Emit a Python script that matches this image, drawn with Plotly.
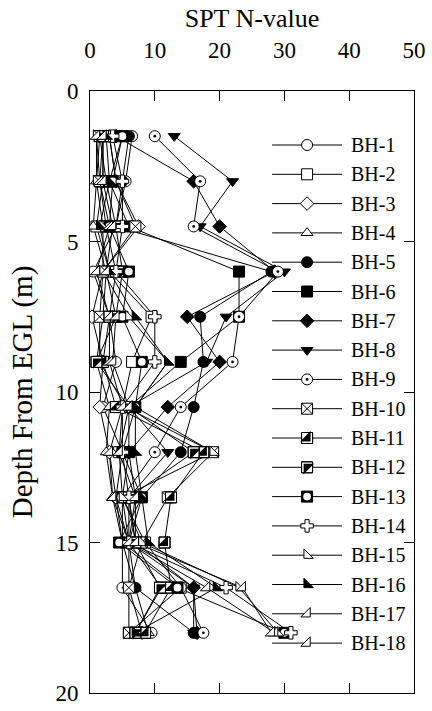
import plotly.graph_objects as go

# ---------------- data ----------------
depths = [1.5, 3.0, 4.5, 6.0, 7.5, 9.0, 10.5, 12.0, 13.5, 15.0, 16.5, 18.0]
names = [f"BH-{i}" for i in range(1, 19)]

bh1 = [6.5, 5.5, 4.0, 0.5, 3.0, 4.0, 2.0, 5.0, 4.0, 5.0, 5.0, 9.5]
bh2 = [2.0, 2.0, 1.0, 3.0, 9.5, 6.5, 5.0, 4.5, 5.0, 8.5, 14.0, 6.0]
bh3 = [3.0, 4.0, 7.5, 2.0, 0.3, 2.0, 1.5, 3.0, 4.0, 6.0, 6.0, 8.0]
bh4 = [1.5, 1.0, 0.5, 2.5, 2.0, 1.0, 3.0, 2.5, 3.5, 5.0, 7.0, 9.0]
bh5 = [6.0, 5.0, 4.0, 28.0, 17.0, 17.5, 16.0, 14.0, 8.0, 6.0, 7.0, 16.0]
bh6 = [5.0, 3.0, 6.0, 23.0, 23.0, 14.0, 6.0, 6.0, 5.0, 6.0, 11.0, 7.0]
bh7 = [4.0, 16.0, 20.0, 28.5, 15.0, 20.0, 12.0, 6.0, 7.0, 6.0, 16.0, 16.5]
bh8 = [13.0, 22.0, 17.0, 30.0, 21.0, 18.0, 6.0, 12.0, 6.0, 7.0, 16.0, 16.0]
bh9 = [10.0, 17.0, 16.0, 29.0, 23.0, 22.0, 14.0, 10.0, 5.0, 5.0, 14.0, 17.5]
bh10 = [3.0, 4.0, 7.0, 2.0, 1.5, 1.5, 5.5, 19.0, 12.0, 8.0, 6.0, 6.0]
bh11 = [2.0, 1.5, 2.5, 4.0, 3.0, 2.0, 4.0, 17.5, 12.5, 11.5, 12.5, 8.5]
bh12 = [1.5, 2.5, 4.0, 5.0, 4.0, 1.0, 6.0, 16.0, 6.0, 7.0, 10.8, 7.0]
bh13 = [5.0, 3.5, 3.0, 6.0, 5.0, 8.0, 7.0, 5.0, 8.0, 4.5, 13.5, 30.0]
bh14 = [3.5, 5.0, 5.0, 4.0, 10.0, 10.0, 5.0, 5.0, 6.0, 6.0, 21.0, 31.0]
bh15 = [1.0, 1.0, 2.0, 2.0, 6.0, 12.0, 7.0, 19.0, 5.0, 8.0, 23.0, 29.0]
bh16 = [2.5, 3.0, 1.5, 3.0, 7.0, 12.0, 7.0, 7.0, 8.0, 9.0, 19.5, 7.0]
bh17 = [1.0, 1.5, 3.0, 1.0, 3.0, 3.0, 5.0, 3.0, 3.5, 6.0, 18.0, 28.5]
bh18 = [2.0, 2.0, 3.5, 2.5, 4.0, 3.5, 6.0, 4.5, 7.0, 7.0, 23.5, 28.0]

series = [bh1, bh2, bh3, bh4, bh5, bh6, bh7, bh8, bh9,
          bh10, bh11, bh12, bh13, bh14, bh15, bh16, bh17, bh18]

x_ticks = [0, 10, 20, 30, 40, 50]
y_ticks = [0, 5, 10, 15, 20]

# ---------------- styles ----------------
MS = 11
W, K = "white", "black"
# each layer: (symbol, fill, line_width, size_factor)
styles = [
    [("circle", W, 1, 1.0)],
    [("square", W, 1, 1.0)],
    [("diamond", W, 1, 0.95)],
    [("triangle-up", W, 1, 0.95)],
    [("circle", K, 1, 1.0)],
    [("square", K, 1, 1.0)],
    [("diamond", K, 1, 0.95)],
    [("triangle-down", K, 1, 0.95)],
    [("circle", W, 1, 1.0), ("circle", K, 0, 0.25)],
    [("square-x", W, 1, 1.0)],
    [("square", W, 1, 1.0), ("triangle-se", K, 0, 1.05), ("square-open", K, 1, 1.0)],
    [("square", W, 1, 1.0), ("triangle-nw", K, 0, 1.05), ("square-open", K, 1, 1.0)],
    [("square", K, 1, 1.0), ("circle", W, 0, 0.7)],
    [("cross", W, 1, 0.95)],
    [("triangle-sw", W, 1, 0.95)],
    [("triangle-sw", K, 1, 0.95)],
    [("triangle-se", W, 1, 0.95)],
    [("triangle-se", W, 1, 0.95)],
]

FONT = "Liberation Serif"
fig = go.Figure()

# connecting lines first
for nm, vals in zip(names, series):
    fig.add_trace(go.Scatter(x=vals, y=depths, mode="lines",
                             line=dict(color="black", width=1),
                             showlegend=False, hoverinfo="skip", name=nm))

def add_markers(x, y, layers, xa="x", ya="y"):
    for sym, fill, lw, sf in layers:
        fig.add_trace(go.Scatter(
            x=x, y=y, mode="markers", xaxis=xa, yaxis=ya,
            marker=dict(symbol=sym, size=MS * sf, color=fill,
                        line=dict(color="black", width=lw)),
            showlegend=False, hoverinfo="skip"))

for vals, st in zip(series, styles):
    add_markers(vals, depths, st)

# ---------------- custom legend (paper-fraction axes) ----------------
dom_top_px, dom_h_px = 91, 602
leg_first_px, leg_step_px = 145, 29.3
leg_x0, leg_xm, leg_x1, leg_tx = 0.562, 0.670, 0.778, 0.800
for i, (nm, st) in enumerate(zip(names, styles)):
    yf = 1 - (leg_first_px + i * leg_step_px - dom_top_px) / dom_h_px
    fig.add_trace(go.Scatter(x=[leg_x0, leg_x1], y=[yf, yf], mode="lines",
                             xaxis="x2", yaxis="y2",
                             line=dict(color="black", width=1),
                             showlegend=False, hoverinfo="skip"))
    add_markers([leg_xm], [yf], st, xa="x2", ya="y2")
    fig.add_annotation(x=leg_tx, y=yf, xref="paper", yref="paper",
                       text=nm, showarrow=False, xanchor="left", yanchor="middle",
                       font=dict(family=FONT, size=20, color="black"))

fig.update_layout(
    width=432, height=711,
    margin=dict(l=90, r=18, t=91, b=18, autoexpand=False),
    paper_bgcolor="white", plot_bgcolor="white",
    showlegend=False,
    font=dict(family=FONT, color="black"),
    xaxis=dict(range=[0, 50], side="top", tickvals=x_ticks, automargin=False,
               ticks="inside", ticklen=10, tickcolor="black", tickwidth=1,
               showline=True, linecolor="black", linewidth=1, mirror="ticks",
               showgrid=False, zeroline=False,
               tickfont=dict(family=FONT, size=23, color="black"),
               ticklabelstandoff=23,
               title=dict(text="SPT N-value", standoff=2,
                          font=dict(family=FONT, size=26, color="black"))),
    yaxis=dict(range=[20, 0], tickvals=y_ticks, automargin=False,
               ticks="inside", ticklen=10, tickcolor="black", tickwidth=1,
               showline=True, linecolor="black", linewidth=1, mirror="ticks",
               showgrid=False, zeroline=False,
               tickfont=dict(family=FONT, size=23, color="black"),
               ticklabelstandoff=6,
               title=dict(text="Depth From EGL (m)", standoff=14,
                          font=dict(family=FONT, size=29, color="black"))),
    xaxis2=dict(range=[0, 1], overlaying="x", visible=False, fixedrange=True),
    yaxis2=dict(range=[0, 1], overlaying="y", visible=False, fixedrange=True),
)

fig.write_html("out.html")
